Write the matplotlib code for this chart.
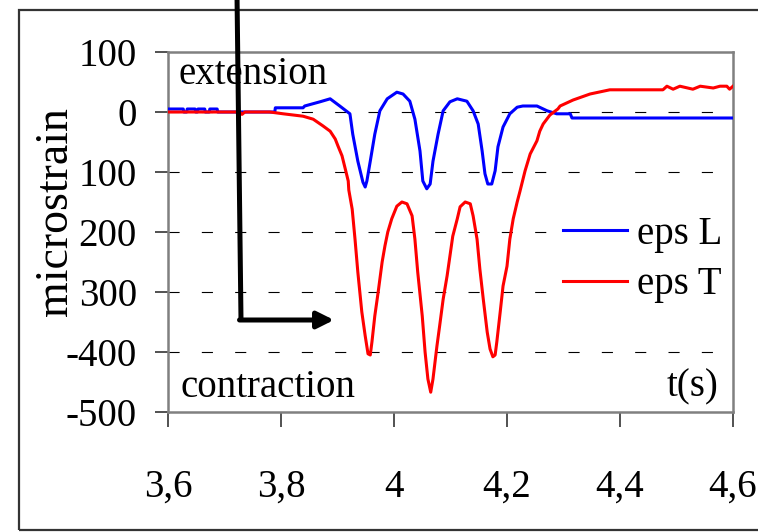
import matplotlib
matplotlib.use("Agg")
import matplotlib.pyplot as plt
from matplotlib.lines import Line2D
from matplotlib.patches import Rectangle, FancyArrowPatch

plt.rcParams['font.family'] = ['Liberation Serif', 'DejaVu Serif']

# eps L (blue)
t_L = [3.600, 3.627, 3.628, 3.633, 3.634, 3.648, 3.649, 3.652, 3.653, 3.665, 3.666,
       3.673, 3.674, 3.687, 3.688, 3.789, 3.790, 3.839, 3.842, 3.869, 3.887, 3.904,
       3.922, 3.927, 3.936, 3.945, 3.949, 3.952, 3.958, 3.966, 3.975, 3.988, 4.005,
       4.016, 4.028, 4.037, 4.046, 4.051, 4.058, 4.064, 4.069, 4.078, 4.087, 4.099,
       4.112, 4.129, 4.140, 4.149, 4.156, 4.161, 4.166, 4.173, 4.179, 4.184, 4.193,
       4.205, 4.218, 4.228, 4.253, 4.271, 4.288, 4.312, 4.315, 4.600]
eps_L = [5, 5, 0, 0, 5, 5, 0, 0, 5, 5, 0,
         0, 5, 5, 0, 0, 7, 7, 10, 17, 22, 10,
         -3, -37, -82, -117, -125, -115, -82, -37, 2, 22, 33,
         30, 18, -12, -65, -115, -128, -120, -82, -37, 2, 17,
         22, 18, 2, -20, -65, -103, -120, -120, -98, -58, -25,
         -3, 8, 10, 10, 2, -3, -3, -10, -10]

# eps T (red)
t_T = [3.600, 3.727, 3.731, 3.736, 3.780, 3.804, 3.839, 3.857, 3.874, 3.887, 3.896,
       3.901, 3.908, 3.913, 3.919, 3.920, 3.926, 3.931, 3.936, 3.943, 3.949, 3.954,
       3.958, 3.961, 3.966, 3.972, 3.979, 3.984, 3.989, 3.996, 4.005, 4.014, 4.023,
       4.032, 4.037, 4.042, 4.050, 4.055, 4.060, 4.065, 4.069, 4.076, 4.081, 4.087,
       4.094, 4.099, 4.104, 4.112, 4.117, 4.126, 4.135, 4.140, 4.147, 4.152, 4.158,
       4.165, 4.170, 4.175, 4.179, 4.182, 4.188, 4.193, 4.200, 4.205, 4.211, 4.218,
       4.223, 4.232, 4.241, 4.253, 4.258, 4.264, 4.276, 4.290, 4.294, 4.317, 4.347,
       4.382, 4.476, 4.483, 4.494, 4.506, 4.529, 4.542, 4.565, 4.577, 4.589, 4.594,
       4.600]
eps_T = [0, 0, -4, 0, 0, -3, -7, -12, -23, -32, -45,
         -57, -73, -92, -115, -130, -162, -212, -267, -333, -373, -403,
         -405, -383, -340, -300, -250, -223, -200, -178, -157, -150, -153,
         -173, -212, -267, -340, -400, -445, -467, -445, -390, -355, -312,
         -273, -240, -207, -178, -158, -150, -153, -173, -212, -262, -312,
         -367, -395, -408, -405, -383, -333, -290, -257, -212, -178, -150,
         -132, -98, -70, -48, -32, -20, -5, 5, 10, 20, 30,
         37, 37, 43, 38, 43, 38, 43, 40, 43, 43, 38,
         43]

x_ticks = [3.6, 3.8, 4.0, 4.2, 4.4, 4.6]
x_ticklabels = ['3,6', '3,8', '4', '4,2', '4,4', '4,6']
y_ticks = [-500, -400, -300, -200, -100, 0, 100]
# as printed in the reference (the minus signs of -100..-300 are hidden there)
y_ticklabels = ['-500', '-400', '300', '200', '100', '0', '100']
grid_levels = [-400, -300, -200, -100, 0]

W, H = 758, 532
fig = plt.figure(figsize=(W / 100, H / 100), dpi=100)


def fx(px):
    return px / W


def fy(py):
    return 1 - py / H


ax = fig.add_axes([fx(168), fy(412), fx(733) - fx(168), fy(52) - fy(412)])
ax.set_xlim(3.6, 4.6)
ax.set_ylim(-500, 100)

for g in grid_levels:
    ax.axhline(g, color='black', lw=0.8, linestyle=(0, (10, 20)), zorder=1)

ax.plot(t_L, eps_L, color='#0000FF', lw=2.2, label='eps L', zorder=3)
ax.plot(t_T, eps_T, color='#FF0000', lw=2.2, label='eps T', zorder=4)

ax.set_xticks(x_ticks)
ax.set_xticklabels(x_ticklabels)
ax.set_yticks(y_ticks)
ax.set_yticklabels(y_ticklabels)
ax.tick_params(axis='x', direction='out', length=11, width=1.2, color='#333333',
               labelsize=28, pad=30)
ax.tick_params(axis='y', direction='out', length=9.5, width=1.2, color='#333333',
               labelsize=28, pad=13)
for s in ax.spines.values():
    s.set_color('#808080')
    s.set_linewidth(1.8)

ax.text(0.018, 0.912, 'extension', transform=ax.transAxes, fontsize=28,
        ha='left', va='baseline')
ax.text(0.023, 0.042, 'contraction', transform=ax.transAxes, fontsize=28,
        ha='left', va='baseline')
ax.text(0.975, 0.042, 't(s)', transform=ax.transAxes, fontsize=28,
        ha='right', va='baseline')

leg = ax.legend(loc='upper left', bbox_to_anchor=(fx(555), fy(208)),
                bbox_transform=fig.transFigure, frameon=True, fontsize=28,
                facecolor='white', edgecolor='none', framealpha=1.0,
                fancybox=False,
                handlelength=1.65, handletextpad=0.26, borderpad=0.2,
                borderaxespad=0, labelspacing=0.35)
leg.set_zorder(6)
for line in leg.get_lines():
    line.set_linewidth(2.2)

fig.text(fx(77), fy(212), 'microstrain', rotation=90, fontsize=33,
         ha='right', va='center')

# outer border
fig.add_artist(Rectangle((fx(19), fy(530)), 1.2, fy(10) - fy(530),
                         transform=fig.transFigure, fill=False,
                         edgecolor='#333333', lw=1.6, clip_on=False))

# black arrow
fig.add_artist(Line2D([fx(237), fx(241)], [fy(-5), fy(320)],
                      transform=fig.transFigure, color='black', lw=3.6,
                      solid_capstyle='butt'))
fig.add_artist(FancyArrowPatch((fx(239.5), fy(320)), (fx(334), fy(320)),
                               transform=fig.transFigure,
                               arrowstyle='-|>,head_length=10,head_width=5',
                               color='black', lw=3.6, mutation_scale=1,
                               shrinkA=0, shrinkB=0))

fig.savefig('out.png', dpi=100)
